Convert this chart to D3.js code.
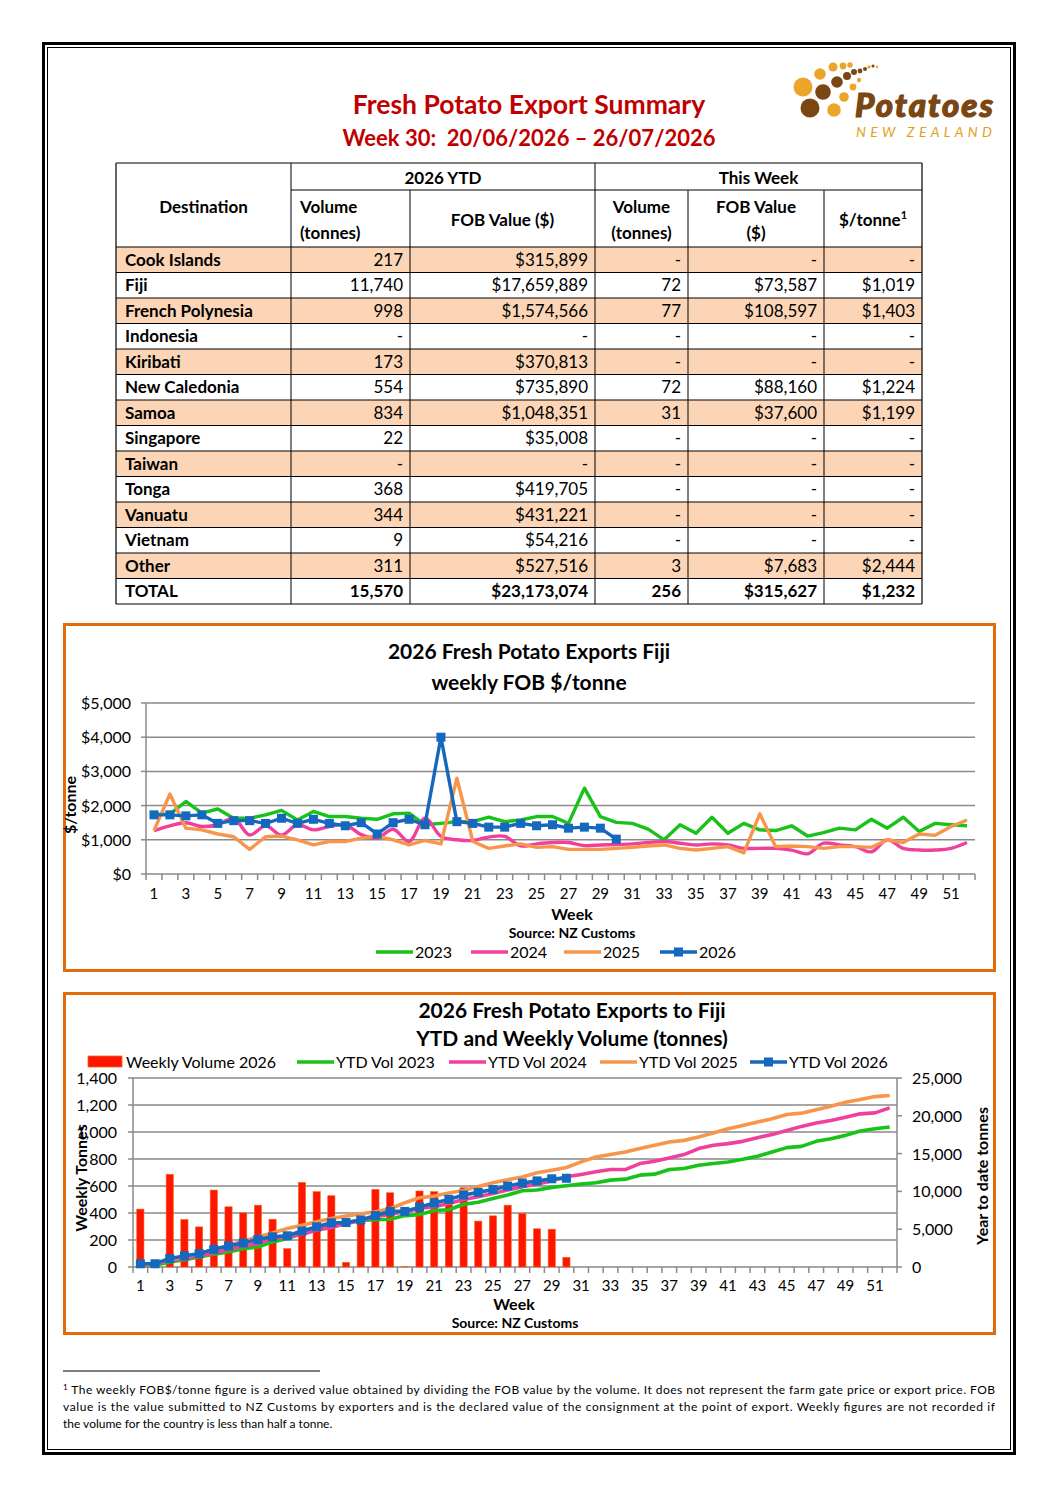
<!DOCTYPE html>
<html><head><meta charset="utf-8">
<script src="https://cdn.jsdelivr.net/npm/d3@7"></script>
<style>
body{margin:0;background:#fff}
svg text{font-family:Lato,"Open Sans",sans-serif;fill:#000}
</style></head><body>
<svg id="c" width="1058" height="1497"></svg>
<script>
// ---------- DATA ----------
const titleMain = "Fresh Potato Export Summary";
const titleWeek = "Week 30:  20/06/2026 \u2013 26/07/2026";

const destinations = ["Cook Islands","Fiji","French Polynesia","Indonesia","Kiribati","New Caledonia","Samoa","Singapore","Taiwan","Tonga","Vanuatu","Vietnam","Other","TOTAL"];
const ytdVolume = [217,11740,998,null,173,554,834,22,null,368,344,9,311,15570];
const ytdFob = [315899,17659889,1574566,null,370813,735890,1048351,35008,null,419705,431221,54216,527516,23173074];
const weekVolume = [null,72,77,null,null,72,31,null,null,null,null,null,3,256];
const weekFob = [null,73587,108597,null,null,88160,37600,null,null,null,null,null,7683,315627];
const weekPerTonne = [null,1019,1403,null,null,1224,1199,null,null,null,null,null,2444,1232];

const weeks = [1,2,3,4,5,6,7,8,9,10,11,12,13,14,15,16,17,18,19,20,21,22,23,24,25,26,27,28,29,30,31,32,33,34,35,36,37,38,39,40,41,42,43,44,45,46,47,48,49,50,51,52];
const weekLabels = [1,3,5,7,9,11,13,15,17,19,21,23,25,27,29,31,33,35,37,39,41,43,45,47,49,51];

// Chart 1: weekly FOB $/tonne
const fob2023 = [1750,1750,2120,1780,1900,1630,1630,1730,1860,1580,1830,1680,1680,1630,1600,1760,1780,1440,1480,1530,1530,1660,1530,1580,1680,1680,1480,2510,1680,1510,1480,1310,1000,1440,1190,1660,1190,1480,1290,1270,1410,1110,1210,1340,1290,1600,1340,1660,1240,1480,1440,1410];
const fob2024 = [1270,1410,1500,1390,1440,1630,1140,1410,1140,1440,1290,1390,1440,1150,1050,1310,950,1630,1100,1000,980,1080,1100,820,880,920,920,830,850,860,880,920,950,900,850,880,850,750,750,750,700,590,900,850,800,650,1000,750,700,700,750,920];
const fob2025 = [1270,2340,1340,1290,1170,1090,720,1090,1110,1000,850,950,950,1050,1110,1000,850,980,880,2800,950,750,820,880,780,800,720,720,720,750,780,820,850,750,700,750,800,620,1760,800,820,800,750,800,800,780,1000,920,1170,1130,1390,1580];
const fob2026 = [1730,1730,1700,1730,1480,1560,1560,1480,1630,1480,1600,1480,1410,1500,1170,1500,1600,1440,4000,1530,1480,1370,1370,1480,1410,1440,1340,1370,1340,1019];
const dollarTicks = [0,1000,2000,3000,4000,5000];

// Chart 2: volumes
const weeklyVol2026 = [429,0,687,352,297,570,446,401,458,354,136,627,558,528,35,350,575,550,3,563,558,465,587,340,379,458,398,283,280,72];
const ytd2023 = [150,220,660,970,1330,1680,1990,2430,2650,3320,3760,4420,5090,5530,5880,6150,6250,6320,6800,6930,7480,7570,8300,8570,9070,9510,10090,10180,10530,10750,10960,11140,11490,11620,12150,12280,12890,13030,13460,13680,13900,14250,14650,15220,15790,15960,16620,16970,17410,17980,18290,18510];
const ytd2024 = [220,350,885,1110,1460,1860,2300,2740,3100,3760,3980,4340,4870,5220,5750,6110,6640,6990,7300,7740,7970,8410,8940,9290,9735,10180,10610,10960,11400,11930,12240,12590,12890,12890,13680,13990,14430,14870,15660,16100,16320,16620,17110,17540,18070,18600,19040,19390,19820,20260,20390,21050];
const ytd2025 = [350,440,1020,1330,1770,2300,2880,3410,3980,4510,5090,5530,5970,6420,6730,7050,7320,7700,8500,9160,9380,9780,10120,10640,11150,11550,11900,12460,12810,13160,13900,14560,14870,15220,15660,16100,16540,16750,17190,17720,18290,18730,19170,19610,20180,20350,20790,21270,21800,22150,22540,22680];
const ytd2026 = [429,429,1116,1468,1765,2335,2781,3182,3640,3994,4130,4757,5315,5843,5878,6228,6803,7353,7356,7919,8477,8942,9529,9869,10248,10706,11104,11387,11667,11740];
const leftTicks = [0,200,400,600,800,1000,1200,1400];
const rightTicks = [0,5000,10000,15000,20000,25000];

const footLines = [
 "The weekly FOB$/tonne figure is a derived value obtained by dividing the FOB value by the volume. It does not represent the farm gate price or export price. FOB",
 "value is the value submitted to NZ Customs by exporters and is the declared value of the consignment at the point of export. Weekly figures are not recorded if",
 "the volume for the country is less than half a tonne."
];

// ---------- STYLE ----------
const C = {green:"#19C219", pink:"#F0409A", orange:"#F7964A", blue:"#1468BE", red:"#FF1500", grid:"#8A8A8A", frame:"#E36C0A", title:"#C00000", shade:"#FBD5B5"};
const svg = d3.select("#c");

// page frame
svg.append("rect").attr("x",43.5).attr("y",43.5).attr("width",971).attr("height",1410).attr("fill","none").attr("stroke","#000").attr("stroke-width",3);
svg.append("rect").attr("x",47.5).attr("y",47.5).attr("width",963).attr("height",1402).attr("fill","none").attr("stroke","#000").attr("stroke-width",1);

// titles
svg.append("text").attr("x",529).attr("y",114).attr("text-anchor","middle").style("font-size","26.5px").style("font-weight","bold").style("fill",C.title).text(titleMain);
svg.append("text").attr("x",529).attr("y",146).attr("text-anchor","middle").attr("xml:space","preserve").style("white-space","pre").style("font-size","22px").style("font-weight","bold").style("fill",C.title).text(titleWeek);

// logo
const logo = svg.append("g");
const dots = [[803,87,9.5,"g"],[810,108,9.5,"b"],[823,92,7.8,"b"],[834,110,6.8,"g"],[820,74,5.8,"g"],[837,82,5.8,"b"],[844,97,4.8,"g"],[833,67,4.5,"g"],[847,76,4,"b"],[843,66,3.4,"g"],[853,87,3.4,"g"],[854,72,3,"b"],[850,65,2.7,"g"],[860,71,2.4,"b"],[859,80,2.2,"g"],[865,69,2,"b"],[869,67,1.7,"g"],[873,66,1.5,"b"],[877,67,1.3,"g"]];
logo.selectAll("circle").data(dots).join("circle").attr("cx",d=>d[0]).attr("cy",d=>d[1]).attr("r",d=>d[2]).attr("fill",d=>d[3]==="g"?"#EBA52B":"#7A4712");
logo.append("text").attr("x",855).attr("y",117).style("font-size","33px").style("font-weight","900").style("font-style","italic").style("fill","#7A4712").style("stroke","#7A4712").style("stroke-width","1.2px").attr("textLength",138).text("Potatoes");
logo.append("text").attr("x",856).attr("y",137).style("font-size","14px").style("font-style","italic").style("fill","#E3A020").attr("textLength",136).attr("lengthAdjust","spacing").text("NEW ZEALAND");

// ---------- TABLE ----------
const colX=[116,291,410,595,688,824,922];
const hTop=163, hMid=190, rowTop=247, rowH=25.5;
const fmtN = v => v==null ? "-" : d3.format(",")(v);
const fmtD = v => v==null ? "-" : "$"+d3.format(",")(v);
const tbl = svg.append("g");
destinations.forEach((d,i)=>{
  const y = rowTop+i*rowH;
  if(i%2===0 && i<13) tbl.append("rect").attr("x",colX[0]).attr("y",y).attr("width",colX[6]-colX[0]).attr("height",rowH).attr("fill",C.shade);
});
const ln=(x1,y1,x2,y2,w)=>tbl.append("line").attr("x1",x1).attr("y1",y1).attr("x2",x2).attr("y2",y2).attr("stroke","#000").attr("stroke-width",w||1);
const tBottom = rowTop+destinations.length*rowH;
ln(colX[0],hTop,colX[6],hTop,1.2);
ln(colX[1],hMid,colX[6],hMid);
for(let i=0;i<=destinations.length;i++) ln(colX[0],rowTop+i*rowH,colX[6],rowTop+i*rowH, i===0||i===destinations.length?1.2:1);
ln(colX[0],hTop,colX[0],tBottom,1.2); ln(colX[6],hTop,colX[6],tBottom,1.2);
ln(colX[1],hTop,colX[1],tBottom); ln(colX[3],hTop,colX[3],tBottom);
ln(colX[2],hMid,colX[2],tBottom); ln(colX[4],hMid,colX[4],tBottom); ln(colX[5],hMid,colX[5],tBottom);
const ht=(x,y,t,anchor)=>tbl.append("text").attr("x",x).attr("y",y).attr("text-anchor",anchor||"middle").style("font-size","17px").style("font-weight","bold").text(t);
ht((colX[0]+colX[1])/2,213,"Destination");
ht((colX[1]+colX[3])/2,184,"2026 YTD");
ht((colX[3]+colX[6])/2,184,"This Week");
ht(300,213,"Volume","start"); ht(300,239,"(tonnes)","start");
ht((colX[2]+colX[3])/2,226,"FOB Value ($)");
ht((colX[3]+colX[4])/2,213,"Volume"); ht((colX[3]+colX[4])/2,239,"(tonnes)");
ht((colX[4]+colX[5])/2,213,"FOB Value"); ht((colX[4]+colX[5])/2,239,"($)");
const pt = ht((colX[5]+colX[6])/2,226,"$/tonne");
pt.append("tspan").attr("dy",-7).style("font-size","11px").text("1");
const cols=[ytdVolume,ytdFob,weekVolume,weekFob,weekPerTonne];
const fmts=[fmtN,fmtD,fmtN,fmtD,fmtD];
destinations.forEach((d,i)=>{
  const y = rowTop+i*rowH+18.5;
  const bold = i===destinations.length-1;
  tbl.append("text").attr("x",125).attr("y",y).style("font-size","17px").style("font-weight","bold").text(d);
  cols.forEach((arr,c)=>{
    tbl.append("text").attr("x",colX[c+2]-7).attr("y",y).attr("text-anchor","end").style("font-size","17px").style("font-weight",bold?"bold":"normal").text(fmts[c](arr[i]));
  });
});

// ---------- CHART 1 ----------
const g1 = svg.append("g");
g1.append("rect").attr("x",64.5).attr("y",624.5).attr("width",930).attr("height",346).attr("fill","#fff").attr("stroke",C.frame).attr("stroke-width",3);
g1.append("text").attr("x",529).attr("y",659).attr("text-anchor","middle").style("font-size","21px").style("font-weight","bold").text("2026 Fresh Potato Exports Fiji");
g1.append("text").attr("x",529).attr("y",690).attr("text-anchor","middle").style("font-size","21px").style("font-weight","bold").text("weekly FOB $/tonne");
const x1 = d3.scaleBand().domain(weeks).range([146,975]);
const cx1 = w => x1(w)+x1.bandwidth()/2;
const y1 = d3.scaleLinear().domain([0,5000]).range([874,703]);
g1.selectAll(".gl").data(dollarTicks).join("line").attr("x1",146).attr("x2",975).attr("y1",d=>y1(d)).attr("y2",d=>y1(d)).attr("stroke",C.grid).attr("stroke-width",1.5);
g1.append("line").attr("x1",146).attr("x2",146).attr("y1",703).attr("y2",874).attr("stroke",C.grid).attr("stroke-width",1.5);
g1.selectAll(".yt").data(dollarTicks).join("line").attr("x1",141).attr("x2",146).attr("y1",d=>y1(d)).attr("y2",d=>y1(d)).attr("stroke",C.grid).attr("stroke-width",1.5);
g1.selectAll(".yl").data(dollarTicks).join("text").attr("x",131).attr("y",d=>y1(d)+6).attr("text-anchor","end").style("font-size","16px").text(d=>d3.format("$,")(d));
g1.selectAll(".xt").data(weeks.map(w=>x1(w)).concat([975])).join("line").attr("x1",d=>d).attr("x2",d=>d).attr("y1",874).attr("y2",880).attr("stroke",C.grid).attr("stroke-width",1.5);
g1.selectAll(".xl").data(weekLabels).join("text").attr("x",d=>cx1(d)).attr("y",899).attr("text-anchor","middle").style("font-size","15px").text(d=>d);
g1.append("text").attr("transform","translate(76,805) rotate(-90)").attr("text-anchor","middle").style("font-size","16px").style("font-weight","bold").text("$/tonne");
g1.append("text").attr("x",572).attr("y",920).attr("text-anchor","middle").style("font-size","16px").style("font-weight","bold").text("Week");
g1.append("text").attr("x",572).attr("y",938).attr("text-anchor","middle").style("font-size","14px").style("font-weight","bold").text("Source: NZ Customs");
const line1 = d3.line().x((d,i)=>cx1(weeks[i])).y(d=>y1(d));
const s1 = [[fob2023,C.green,"2023",d3.curveLinear],[fob2024,C.pink,"2024",d3.curveCatmullRom.alpha(0.5)],[fob2025,C.orange,"2025",d3.curveLinear],[fob2026,C.blue,"2026",d3.curveLinear]];
s1.forEach(s=>{
  g1.append("path").attr("d",line1.curve(s[3])(s[0])).attr("fill","none").attr("stroke",s[1]).attr("stroke-width",3.4).attr("stroke-linejoin","round");
});
g1.selectAll(".m1").data(fob2026).join("rect").attr("x",(d,i)=>cx1(weeks[i])-4.5).attr("y",d=>y1(d)-4.5).attr("width",9).attr("height",9).attr("fill",C.blue);
const leg1X=[376,471,564,660];
s1.forEach((s,i)=>{
  g1.append("line").attr("x1",leg1X[i]).attr("x2",leg1X[i]+37).attr("y1",952).attr("y2",952).attr("stroke",s[1]).attr("stroke-width",3.5);
  if(i===3) g1.append("rect").attr("x",leg1X[i]+14).attr("y",947.5).attr("width",9).attr("height",9).attr("fill",C.blue);
  g1.append("text").attr("x",leg1X[i]+39).attr("y",958).style("font-size","16px").text(s[2]);
});

// ---------- CHART 2 ----------
const g2 = svg.append("g");
g2.append("rect").attr("x",64.5).attr("y",993.5).attr("width",930).attr("height",340).attr("fill","#fff").attr("stroke",C.frame).attr("stroke-width",3);
g2.append("text").attr("x",572).attr("y",1018).attr("text-anchor","middle").style("font-size","21px").style("font-weight","bold").text("2026 Fresh Potato Exports to Fiji");
g2.append("text").attr("x",572).attr("y",1046).attr("text-anchor","middle").style("font-size","21px").style("font-weight","bold").text("YTD and Weekly Volume (tonnes)");
const x2 = d3.scaleBand().domain(weeks).range([133,897]);
const cx2 = w => x2(w)+x2.bandwidth()/2;
const yL = d3.scaleLinear().domain([0,1400]).range([1267,1078]);
const yR = d3.scaleLinear().domain([0,25000]).range([1267,1078]);
g2.selectAll(".gl").data(leftTicks).join("line").attr("x1",133).attr("x2",897).attr("y1",d=>yL(d)).attr("y2",d=>yL(d)).attr("stroke",C.grid).attr("stroke-width",1.5);
g2.append("line").attr("x1",133).attr("x2",133).attr("y1",1078).attr("y2",1267).attr("stroke",C.grid).attr("stroke-width",1.5);
g2.append("line").attr("x1",897).attr("x2",897).attr("y1",1078).attr("y2",1267).attr("stroke",C.grid).attr("stroke-width",1.5);
g2.selectAll(".ylt").data(leftTicks).join("line").attr("x1",128).attr("x2",133).attr("y1",d=>yL(d)).attr("y2",d=>yL(d)).attr("stroke",C.grid).attr("stroke-width",1.5);
g2.selectAll(".yrt").data(rightTicks).join("line").attr("x1",897).attr("x2",902).attr("y1",d=>yR(d)).attr("y2",d=>yR(d)).attr("stroke",C.grid).attr("stroke-width",1.5);
g2.selectAll(".yll").data(leftTicks).join("text").attr("x",117).attr("y",d=>yL(d)+6).attr("text-anchor","end").style("font-size","16px").text(d=>d3.format(",")(d));
g2.selectAll(".yrl").data(rightTicks).join("text").attr("x",912).attr("y",d=>yR(d)+6).style("font-size","16px").text(d=>d3.format(",")(d));
g2.selectAll(".xt").data(weeks.map(w=>x2(w)).concat([897])).join("line").attr("x1",d=>d).attr("x2",d=>d).attr("y1",1267).attr("y2",1273).attr("stroke",C.grid).attr("stroke-width",1.5);
g2.selectAll(".xl").data(weekLabels).join("text").attr("x",d=>cx2(d)).attr("y",1291).attr("text-anchor","middle").style("font-size","15px").text(d=>d);
g2.selectAll(".bar").data(weeklyVol2026).join("rect").attr("x",(d,i)=>cx2(weeks[i])-3.6).attr("width",7.2).attr("y",d=>yL(d)).attr("height",d=>yL(0)-yL(d)).attr("fill",C.red).attr("stroke","#F06A1A").attr("stroke-width",0.6);
const line2 = d3.line().x((d,i)=>cx2(weeks[i])).y(d=>yR(d));
const s2 = [[ytd2023,C.green],[ytd2024,C.pink],[ytd2025,C.orange],[ytd2026,C.blue]];
s2.forEach(s=>g2.append("path").attr("d",line2(s[0])).attr("fill","none").attr("stroke",s[1]).attr("stroke-width",3.6).attr("stroke-linejoin","round"));
g2.selectAll(".m2").data(ytd2026).join("rect").attr("x",(d,i)=>cx2(weeks[i])-4.5).attr("y",d=>yR(d)-4.5).attr("width",9).attr("height",9).attr("fill",C.blue);
g2.append("text").attr("transform","translate(87,1178) rotate(-90)").attr("text-anchor","middle").style("font-size","16px").style("font-weight","bold").text("Weekly Tonnes");
g2.append("text").attr("transform","translate(988,1176) rotate(-90)").attr("text-anchor","middle").style("font-size","16px").style("font-weight","bold").text("Year to date tonnes");
g2.append("text").attr("x",514).attr("y",1310).attr("text-anchor","middle").style("font-size","16px").style("font-weight","bold").text("Week");
g2.append("text").attr("x",515).attr("y",1328).attr("text-anchor","middle").style("font-size","14px").style("font-weight","bold").text("Source: NZ Customs");
g2.append("rect").attr("x",88).attr("y",1056).attr("width",34).attr("height",11).attr("fill",C.red).attr("stroke","#F06A1A").attr("stroke-width",0.8);
g2.append("text").attr("x",126).attr("y",1068).style("font-size","16px").text("Weekly Volume 2026");
const leg2 = [[297,C.green,"YTD Vol 2023"],[449,C.pink,"YTD Vol 2024"],[600,C.orange,"YTD Vol 2025"],[750,C.blue,"YTD Vol 2026"]];
leg2.forEach((l,i)=>{
  g2.append("line").attr("x1",l[0]).attr("x2",l[0]+37).attr("y1",1062).attr("y2",1062).attr("stroke",l[1]).attr("stroke-width",3.6);
  if(i===3) g2.append("rect").attr("x",l[0]+14).attr("y",1057.5).attr("width",9).attr("height",9).attr("fill",C.blue);
  g2.append("text").attr("x",l[0]+39).attr("y",1068).style("font-size","16px").text(l[2]);
});

// ---------- FOOTNOTE ----------
svg.append("line").attr("x1",63).attr("x2",320).attr("y1",1371).attr("y2",1371).attr("stroke","#000").attr("stroke-width",1);
footLines.forEach((t,i)=>{
  const tx = svg.append("text").attr("x",63).attr("y",1394+i*17).style("font-size","12px");
  if(i===0){ tx.append("tspan").attr("dy",-4).style("font-size","8px").text("1"); tx.append("tspan").attr("dy",4).text(" "+t); tx.attr("textLength",932).attr("lengthAdjust","spacing"); }
  else { tx.text(t); if(i<2) tx.attr("textLength",932).attr("lengthAdjust","spacing"); }
});
</script></body></html>
